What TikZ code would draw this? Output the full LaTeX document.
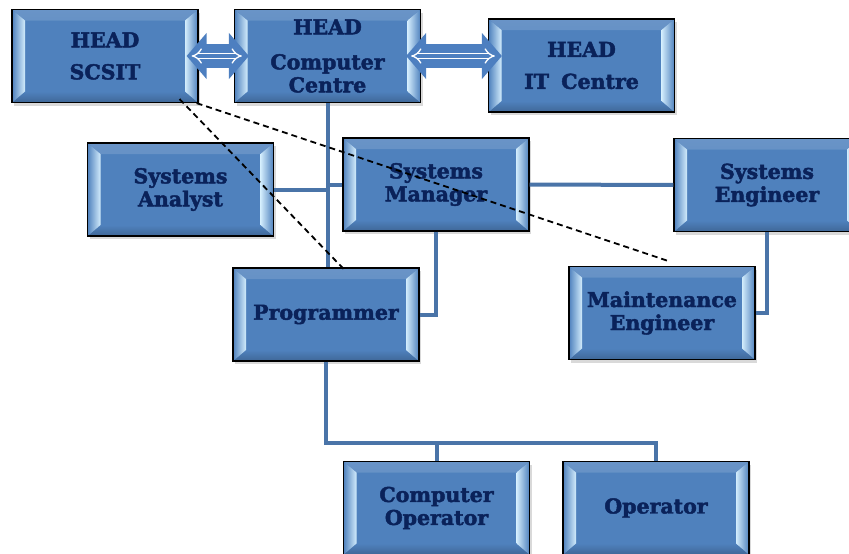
\documentclass[tikz,border=0pt]{standalone}
\usepackage{fontspec}
\setmainfont{DejaVu Serif}[BoldFeatures={FakeBold=2.2}]
\usetikzlibrary{arrows.meta,shadows}
\definecolor{boxblue}{RGB}{79,129,189}
\definecolor{bevel}{RGB}{210,236,252}
\definecolor{linkblue}{RGB}{74,116,168}
\definecolor{arrowblue}{RGB}{77,127,192}
\definecolor{navy}{RGB}{10,34,90}
\begin{document}
\begin{tikzpicture}[x=1pt, y=-1pt,
	main/.style = {draw, line width=1.2pt, fill=boxblue, minimum width=186pt, minimum height=93pt, inner sep=0pt, align=center, text=navy, font=\fontsize{20.5}{23}\selectfont\bfseries, drop shadow={shadow xshift=2pt, shadow yshift=-3pt, opacity=0.3},
		path picture={
			\fill[top color=boxblue!85!white, bottom color=boxblue] (path picture bounding box.north west) -- (path picture bounding box.north east) -- ([shift={(-13pt,-11pt)}]path picture bounding box.north east) -- ([shift={(13pt,-11pt)}]path picture bounding box.north west) -- cycle;
			\fill[top color=boxblue, bottom color=boxblue!80!black] (path picture bounding box.south west) -- (path picture bounding box.south east) -- ([shift={(-13pt,11pt)}]path picture bounding box.south east) -- ([shift={(13pt,11pt)}]path picture bounding box.south west) -- cycle;
			\fill[left color=boxblue, right color=bevel] (path picture bounding box.north west) -- ([shift={(13pt,-11pt)}]path picture bounding box.north west) -- ([shift={(13pt,11pt)}]path picture bounding box.south west) -- (path picture bounding box.south west) -- cycle;
			\fill[left color=bevel, right color=boxblue] (path picture bounding box.north east) -- ([shift={(-13pt,-11pt)}]path picture bounding box.north east) -- ([shift={(-13pt,11pt)}]path picture bounding box.south east) -- (path picture bounding box.south east) -- cycle;
		}},
	link/.style = {linkblue, line width=4pt},
	fat/.style = {arrowblue, line width=24pt, {Triangle[length=20pt,width=45pt]}-{Triangle[length=20pt,width=45pt]}},
	thin/.style = {white, line width=1.3pt, double=arrowblue, double distance=4pt, {Implies}-{Implies}},
	hint/.style = {black, line width=1.8pt, dash pattern=on 6pt off 4pt}]
	\useasboundingbox (0,0) rectangle (849,554);
	\node[main] (scsit) at (105,56) {HEAD\\[9pt]SCSIT};
	\node[main] (cc) at (327.5,56) {HEAD\\[12pt]Computer\\Centre};
	\node[main] (itc) at (581.5,65.5) {HEAD\\[9pt]IT\hspace{0.6em}Centre};
	\node[main] (analyst) at (180.5,189.5) {Systems\\Analyst};
	\node[main] (manager) at (436,184.5) {Systems\\Manager};
	\node[main] (engineer) at (767,185) {Systems\\Engineer};
	\node[main] (programmer) at (326,314.5) {Programmer};
	\node[main] (maint) at (662,313) {Maintenance\\Engineer};
	\node[main] (compop) at (436.5,508) {Computer\\Operator};
	\node[main] (operator) at (656,508) {Operator};
	\coordinate (bus) at (0,443);
	\draw[link] (cc.south) -- (cc.south |- programmer.north);
	\draw[link] (analyst.east) -- (analyst.east -| cc.south);
	\draw[link] (manager.west) -- (manager.west -| cc.south);
	\draw[link] (manager.east) -- (engineer.west);
	\draw[link] (manager.south) |- (programmer.east);
	\draw[link] (engineer.south) |- (maint.east);
	\draw[link] (programmer.south) -- (programmer.south |- bus) -| (operator.north);
	\draw[link] (compop.north) -- (compop.north |- bus);
	\draw[fat] ([xshift=-12pt]scsit.east) -- ([xshift=15pt]cc.west);
	\draw[thin] ([xshift=-7pt]scsit.east) -- ([xshift=8pt]cc.west);
	\draw[fat] ([xshift=-15pt]cc.east) -- ([xshift=14pt]itc.west |- cc.east);
	\draw[thin] ([xshift=-10pt]cc.east) -- ([xshift=7pt]itc.west |- cc.east);
	\draw[hint] ([shift={(-19pt,4pt)}]scsit.south east) -- ([shift={(20pt,-4pt)}]programmer.north);
	\draw[hint] ([xshift=-2pt]scsit.south east) -- ([shift={(6pt,5pt)}]maint.north);
\end{tikzpicture}
\end{document}
